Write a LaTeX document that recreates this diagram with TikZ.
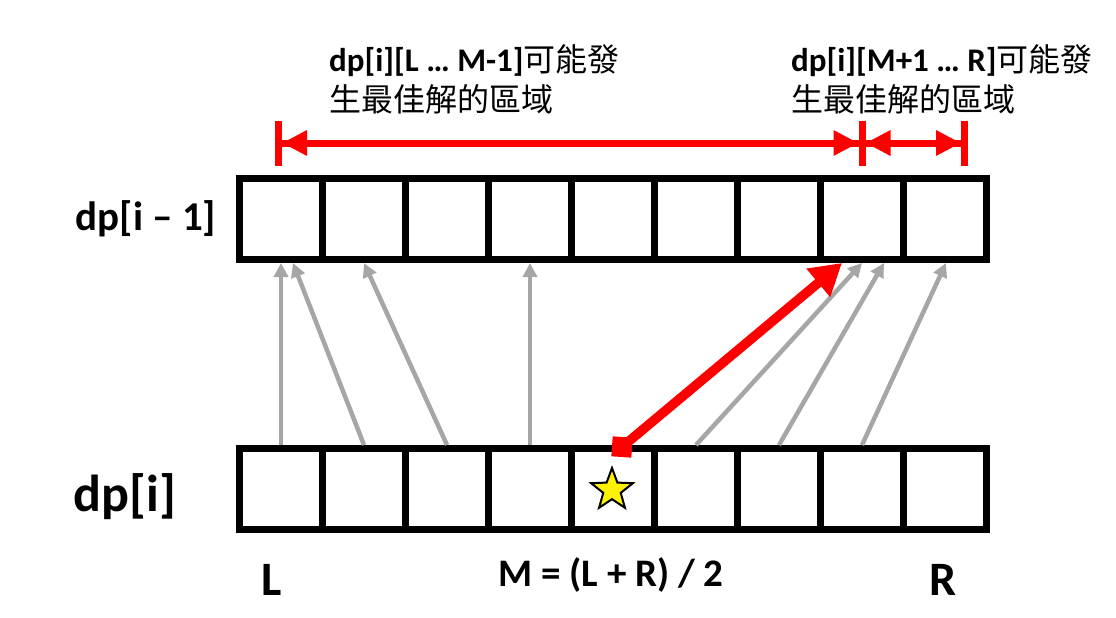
\documentclass[tikz,border=0pt]{standalone}
\usepackage{fontspec}
\setmainfont{Carlito}
\newfontfamily\cjk{Noto Sans CJK TC}
\usetikzlibrary{arrows.meta,shapes.geometric}
\definecolor{arrgray}{RGB}{166,166,166}
\definecolor{hired}{RGB}{255,0,0}

\begin{document}
\begin{tikzpicture}[x=1pt,y=-1pt]
	\tikzset{
		cell/.style ={
			rectangle, %格子
			minimum width =83pt, %格子寬度
			minimum height =81pt, %格子高度
			inner sep=0pt,
			draw=black,
			line width=7pt
		},
		biglab/.style ={font=\bfseries\fontsize{41}{44}\selectfont},
		midlab/.style ={font=\bfseries\fontsize{48}{50}\selectfont},
		note/.style ={anchor=north west, align=left, inner sep=0pt, font=\fontsize{32}{40}\selectfont},
		grayarrow/.style ={draw=arrgray, line width=4.5pt, -{Triangle[length=14pt,width=14pt]}},
		redarrow/.style ={draw=hired, line width=9.5pt, -{Triangle[length=31pt,width=35pt]}},
		rangearrow/.style ={draw=hired, line width=7pt,
			{Bar[width=45pt,line width=7pt]Triangle[length=25pt,width=24pt]}-{Triangle[length=25pt,width=24pt]Bar[width=45pt,line width=7pt]}}
	}
	\useasboundingbox (0,0) rectangle (1116,618);
	% 兩列格子
	\foreach \k in {1,...,9}{
		\node[cell] (t\k) at ({198+83*\k},219) {};
		\node[cell] (b\k) at ({198+83*\k},489) {};
	}
	\node[biglab] (up) at (146,219) {dp[i – 1]};
	\node[biglab, font=\bfseries\fontsize{52}{56}\selectfont] (down) at (125,497) {dp[i]};
	\node[midlab] (l) at (272,580) {L};
	\node[midlab] (r) at (943,580) {R};
	\node[font=\bfseries\fontsize{39}{42}\selectfont] (m) at (611,575) {M = (L + R) / 2};
	\node[star, star points=5, star point ratio=2.4, minimum size=44pt, inner sep=0pt,
		fill=yellow, draw=black, line width=2pt] (best) at (612,490) {};
	% 範圍
	\coordinate (lbar) at (275,143);
	\coordinate (mbar) at (862,143);
	\coordinate (rbar) at (968,143);
	\draw[rangearrow] (lbar)--([xshift=3.5pt]mbar);
	\draw[rangearrow] ([xshift=-3.5pt]mbar)--(rbar);
	\node[note] (lefttxt) at (329,44) {{\bfseries\fontsize{33}{40}\selectfont dp[i][L … M-1]}{\cjk 可能發}\\{\cjk 生最佳解的區域}};
	\node[note] (righttxt) at (791,44) {{\bfseries\fontsize{33}{40}\selectfont dp[i][M+1 … R]}{\cjk 可能發}\\{\cjk 生最佳解的區域}};
	% 轉移
	\draw[grayarrow] (b1.north)--(t1.south);
	\draw[grayarrow] (b2.north)--([xshift=12pt]t1.south);
	\draw[grayarrow] (b3.north)--(t2.south);
	\draw[grayarrow] (b4.north)--(t4.south);
	\draw[grayarrow] (b6.north)--(t8.south);
	\draw[grayarrow] (b7.north)--([xshift=22pt]t8.south);
	\draw[grayarrow] (b8.north)--([xshift=1pt]t9.south);
	\node[fill=hired, minimum size=20pt, inner sep=0pt, rotate=-4] (src) at (622,447) {};
	\draw[redarrow] (src.center)--([xshift=-20pt]t8.south);
\end{tikzpicture}
\end{document}
